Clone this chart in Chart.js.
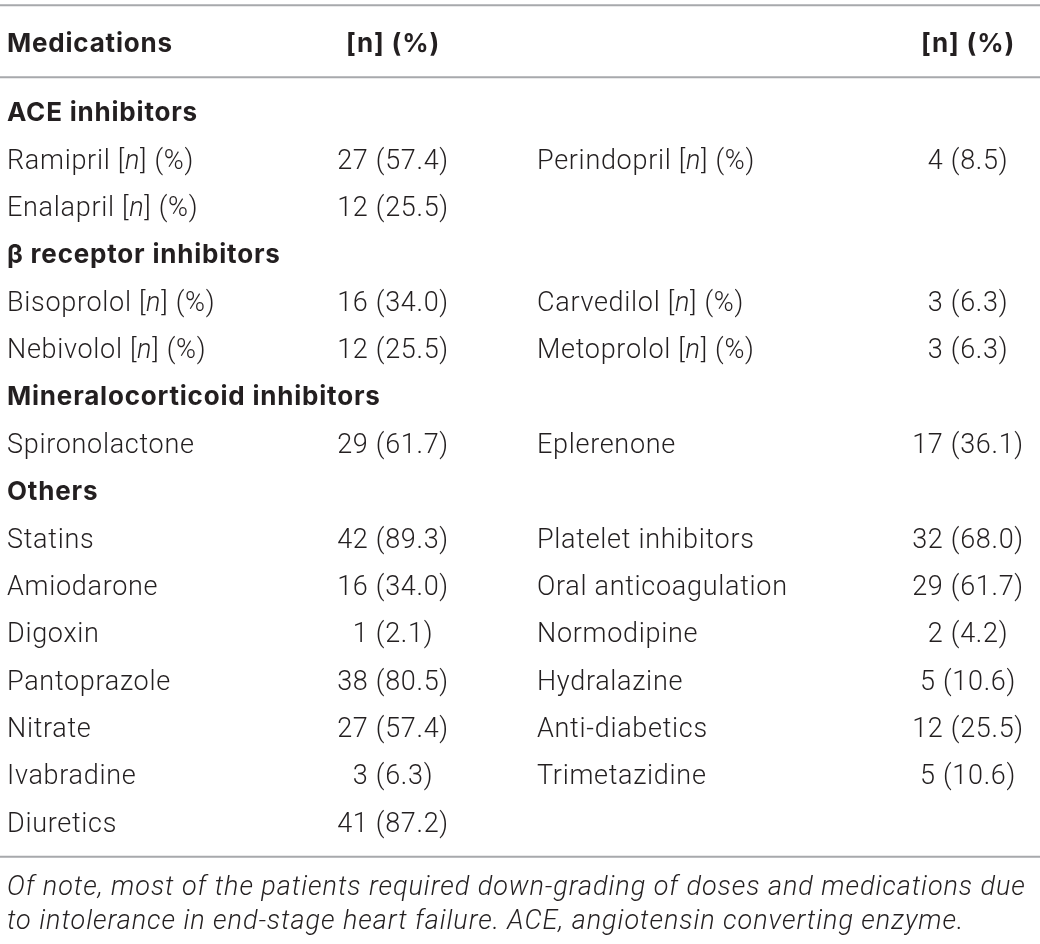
<!DOCTYPE html>
<html lang="en">
<head>
  <meta charset="UTF-8">
  <title>Medications</title>
  <style>
    html, body { margin: 0; padding: 0; background: #ffffff; }
    #tabla { display: block; }
  </style>
</head>
<body>
  <canvas id="tabla" width="1040" height="944"></canvas>

  <script src="https://cdn.jsdelivr.net/npm/chart.js"></script>
  <script>
    // Table content
    const columnHeads = ['Medications', '[n] (%)', '', '[n] (%)'];
    const leftNames = [
      'ACE inhibitors', 'Ramipril [n] (%)', 'Enalapril [n] (%)',
      'β receptor inhibitors', 'Bisoprolol [n] (%)', 'Nebivolol [n] (%)',
      'Mineralocorticoid inhibitors', 'Spironolactone',
      'Others', 'Statins', 'Amiodarone', 'Digoxin', 'Pantoprazole',
      'Nitrate', 'Ivabradine', 'Diuretics'
    ];
    const leftCounts   = [null, 27, 12, null, 16, 12, null, 29, null, 42, 16, 1, 38, 27, 3, 41];
    const leftPercents = [null, 57.4, 25.5, null, 34.0, 25.5, null, 61.7, null, 89.3, 34.0, 2.1, 80.5, 57.4, 6.3, 87.2];
    const rightNames = [
      '', 'Perindopril [n] (%)', '',
      '', 'Carvedilol [n] (%)', 'Metoprolol [n] (%)',
      '', 'Eplerenone',
      '', 'Platelet inhibitors', 'Oral anticoagulation', 'Normodipine', 'Hydralazine',
      'Anti-diabetics', 'Trimetazidine', ''
    ];
    const rightCounts   = [null, 4, null, null, 3, 3, null, 17, null, 32, 29, 2, 5, 12, 5, null];
    const rightPercents = [null, 8.5, null, null, 6.3, 6.3, null, 36.1, null, 68.0, 61.7, 4.2, 10.6, 25.5, 10.6, null];
    const footnote = [
      'Of note, most of the patients required down-grading of doses and medications due',
      'to intolerance in end-stage heart failure. ACE, angiotensin converting enzyme.'
    ];

    // Layout (x anchors in px, text styles)
    const COL = { name1: 7, value1: 393, name2: 537, value2: 968 };
    const INK = '#231f20';
    const RULE = '#a7a9ac';
    const NORMAL = { font: '300 27px Roboto, "Liberation Sans", sans-serif', spacing: '0.7px' };
    const ITALIC = { font: 'italic 300 27px Roboto, "Liberation Sans", sans-serif', spacing: '0.7px' };
    const BOLD = { font: '700 26px Inter, Roboto, "Liberation Sans", sans-serif', spacing: '0.8px' };
    const NOTE = { font: 'italic 300 27px Roboto, "Liberation Sans", sans-serif', spacing: '0.95px' };
    const BASELINE = 9.5;

    const isHeading = leftCounts.map((c, i) => c === null && leftNames[i] !== '');
    const valueText = (c, p) => c + ' (' + p.toFixed(1) + ')';

    function column(names, x, align, bold) {
      const rows = [];
      names.forEach((t, i) => { if (t) rows.push(i); });
      return {
        data: rows.map(i => ({ x: x, y: leftNames[i] })),
        texts: rows.map(i => names[i]),
        bold: rows.map(i => bold[i]),
        align: align,
        pointRadius: 0
      };
    }

    const values1 = leftCounts.map((c, i) => c === null ? '' : valueText(c, leftPercents[i]));
    const values2 = rightCounts.map((c, i) => c === null ? '' : valueText(c, rightPercents[i]));
    const noBold = leftNames.map(() => false);

    function useStyle(ctx, s) {
      ctx.font = s.font;
      ctx.letterSpacing = s.spacing;
    }

    // draws text, "[n]" gets an italic n
    function drawRich(ctx, text, x, y, align, bold) {
      const parts = [];
      if (bold) {
        parts.push({ t: text, s: BOLD });
      } else {
        text.split(/(\[n\])/).forEach(s => {
          if (s === '[n]') {
            parts.push({ t: '[', s: NORMAL });
            parts.push({ t: 'n', s: ITALIC });
            parts.push({ t: ']', s: NORMAL });
          } else if (s) {
            parts.push({ t: s, s: NORMAL });
          }
        });
      }
      let total = 0;
      parts.forEach(p => { useStyle(ctx, p.s); p.w = ctx.measureText(p.t).width; total += p.w; });
      let cx = x;
      if (align === 'center') cx = x - total / 2;
      if (align === 'right') cx = x - total;
      ctx.textAlign = 'left';
      ctx.textBaseline = 'alphabetic';
      ctx.fillStyle = INK;
      parts.forEach(p => { useStyle(ctx, p.s); ctx.fillText(p.t, cx, y); cx += p.w; });
    }

    function rule(ctx, y) {
      ctx.save();
      ctx.strokeStyle = RULE;
      ctx.lineWidth = 2;
      ctx.beginPath();
      ctx.moveTo(0, y);
      ctx.lineTo(ctx.canvas.width, y);
      ctx.stroke();
      ctx.restore();
    }

    const tableText = {
      id: 'tableText',
      afterDatasetsDraw(chart) {
        const ctx = chart.ctx;
        const area = chart.chartArea;
        const xs = chart.scales.x;
        ctx.save();
        chart.data.datasets.forEach((ds, i) => {
          chart.getDatasetMeta(i).data.forEach((pt, j) => {
            drawRich(ctx, ds.texts[j], pt.x, pt.y + BASELINE, ds.align, ds.bold[j]);
          });
        });

        // header row and rules
        rule(ctx, area.top - 83);
        rule(ctx, area.top - 11);
        rule(ctx, area.bottom + 11);
        const headY = area.top - 36.5;
        drawRich(ctx, columnHeads[0], xs.getPixelForValue(COL.name1), headY, 'left', true);
        drawRich(ctx, columnHeads[1], xs.getPixelForValue(COL.value1), headY, 'center', true);
        drawRich(ctx, columnHeads[3], xs.getPixelForValue(COL.value2), headY, 'center', true);

        // footnote
        useStyle(ctx, NOTE);
        ctx.fillStyle = INK;
        ctx.textAlign = 'left';
        footnote.forEach((line, k) => {
          ctx.fillText(line, xs.getPixelForValue(COL.name1), area.bottom + 49.5 + k * 34, 1024);
        });
        ctx.letterSpacing = '0px';
        ctx.restore();
      }
    };

    new Chart(document.getElementById('tabla'), {
      type: 'scatter',
      data: {
        labels: leftNames,
        datasets: [
          column(leftNames, COL.name1, 'left', isHeading),
          column(values1, COL.value1, 'center', noBold),
          column(rightNames, COL.name2, 'left', noBold),
          column(values2, COL.value2, 'center', noBold)
        ]
      },
      options: {
        responsive: false,
        animation: false,
        events: [],
        layout: { padding: { top: 88.33, bottom: 98.33, left: 0, right: 0 } },
        plugins: {
          legend: { display: false },
          tooltip: { enabled: false }
        },
        scales: {
          x: { type: 'linear', min: 0, max: 1040, display: false },
          y: { type: 'category', labels: leftNames, offset: true, display: false }
        }
      },
      plugins: [tableText]
    });
  </script>
</body>
</html>
